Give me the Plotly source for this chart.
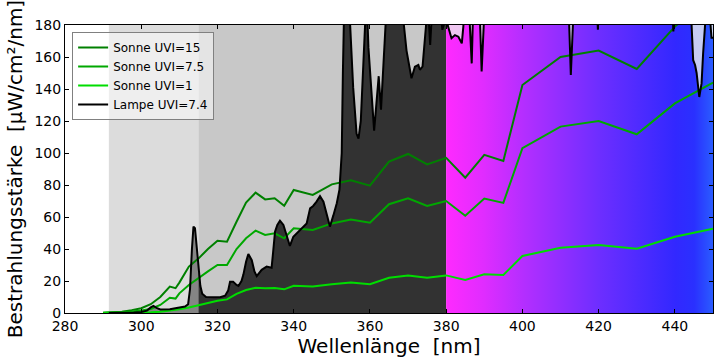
import plotly.graph_objects as go

# ---------------- data ----------------
sun_nm = [290, 295, 297.5, 300, 302.5, 305, 307.5, 309, 310, 312.5, 315, 317.5, 320, 322.5, 325, 327.5,
          330, 332.5, 335, 337.5, 340, 345, 350, 355, 360, 365, 370, 375, 380, 385, 390, 395,
          400, 410, 420, 430, 440, 450]
sun_uvi15 = [0.2, 0.8, 1.8, 3.0, 5.5, 10, 16.5, 15.5, 19, 29, 34, 40, 45.2, 44.6, 57, 69,
             75.2, 71, 71.7, 67, 76.9, 73.8, 80.4, 83, 79.6, 94.6, 99.4, 92.9, 97, 84.6, 98.8, 95,
             142.5, 160, 164, 152.5, 179, 200]
sun_uvi7_5 = [0.1, 0.4, 0.9, 1.6, 2.5, 5, 9.5, 9.0, 12.3, 17.5, 22, 26, 30, 30, 40, 46.7,
              51.5, 48.8, 49.8, 46.7, 53, 51.9, 56, 58.5, 56.4, 68, 71.7, 66.9, 70, 60.8, 71.5, 68.8,
              103, 116.5, 120, 111.7, 131, 144]
sun_uvi1 = [0.0, 0.1, 0.1, 0.2, 0.4, 0.8, 1.5, 1.8, 2.3, 3.5, 5, 6.2, 7.7, 8.5, 12, 14.4,
            15.8, 15.4, 15.6, 14.8, 17, 16.5, 18, 19, 18, 22, 23.5, 22, 23.5, 20.6, 24.2, 23.8,
            35.6, 40.8, 42.5, 40.2, 47.7, 52.7]

lamp_nm = [291.5, 295, 298, 300, 301.5, 302.5, 303.2, 304, 305, 307.5, 310, 311.5, 312.3, 312.8,
           313.3, 313.7, 314.1, 314.6, 315, 315.5, 316, 317, 319, 320.7, 322, 322.8, 323.3, 324.1,
           325, 325.5, 326.3, 326.8, 327.5, 328.1, 329, 329.7, 330.3, 331, 331.6, 332.9, 334.2,
           334.6, 335.1, 335.7, 336.4, 337.3, 338.2, 339, 339.9, 341.2, 342.5, 343.4, 344.3, 345.1,
           346, 346.9, 347.8, 348.6, 349.5, 350.4, 351.3, 352, 352.6, 352.9, 353.2, 353.8, 354.4,
           354.8, 355.6, 356.5, 357, 357.6, 358.3, 358.7, 359.1, 359.6, 360.4, 361.1, 361.7, 362.3,
           362.9, 363.5, 364.2, 365, 366.5, 368, 368.9, 369.6, 370.9, 371.8, 372.7, 373.1, 373.8,
           374.4, 374.9, 375.4, 375.8, 376.2, 377, 378.4, 379, 380, 380.5, 381.4, 382.3, 383.2,
           384.1, 384.5, 385, 386, 386.7, 387.2, 388.5, 389.3, 389.9, 391, 395, 400, 405, 410,
           412, 412.7, 413.4, 415, 419.4, 419.8, 420.2, 425, 430, 439.2, 439.6, 440.2, 444, 444.4,
           444.8, 445.3, 445.7, 446.4, 447, 447.4, 447.9, 448.5, 449.2, 449.6, 450]
lamp_val = [0, 0, 0.3, 0.6, 1.5, 3.5, 4.4, 3.2, 2.2, 2.3, 3.2, 4.0, 5.5, 15,
            40, 54, 53, 40, 27, 17, 12, 10, 9.8, 9.8, 10.8, 14, 19.6, 19.6,
            17.5, 16.9, 20, 24, 32, 36.9, 33, 26, 23, 25, 27, 29, 28.3,
            38, 50.8, 55, 57.7, 55, 47.7, 41.9, 47.7, 50.8, 54, 56, 65.4, 66.9,
            69.6, 73, 69.6, 62.3, 54, 61, 68.6, 77, 100, 150, 185, 260, 200,
            180, 141, 112, 109, 120, 166, 185, 200, 166, 135, 114, 131, 148,
            127, 152, 180, 220, 240, 210, 180, 164, 146.7, 154, 155, 152, 154,
            170, 185, 185, 167.5, 185, 220, 190, 177, 185, 179, 171.7, 173.7, 172.7,
            168.5, 179, 200, 190, 156, 200, 210, 151, 200, 240, 260, 280, 300, 260,
            200, 148.8, 200, 280, 200, 177, 200, 260, 300, 200, 176, 200, 200, 180,
            158, 155, 150, 135, 143.5, 162, 180, 200, 185, 172, 172]

x_ticks = [280, 300, 320, 340, 360, 380, 400, 420, 440]
y_ticks = [0, 20, 40, 60, 80, 100, 120, 140, 160, 180]

# ---------------- figure ----------------
fig = go.Figure()

def seg(lo, hi):
    xs, ys = [], []
    for a, b in zip(lamp_nm, lamp_val):
        if lo <= a <= hi:
            xs.append(a)
            ys.append(b)
    return xs, ys

# pale background above the lamp curve in the visible range
fig.add_trace(go.Scatter(x=[380, 450], y=[180, 180], mode="lines", line=dict(width=0),
                         fill="tozeroy",
                         fillgradient=dict(type="horizontal", colorscale=[
                             [0, "#f0c6f0"], [0.3, "#e2c6f4"], [0.6, "#d0c8f4"],
                             [0.86, "#c6c6f2"], [1, "#c6d0f4"]]),
                         showlegend=False, hoverinfo="skip"))

# fills under lamp curve
xs, ys = seg(291.5, 315)
fig.add_trace(go.Scatter(x=xs, y=ys, mode="lines", line=dict(width=0), fill="tozeroy",
                         fillcolor="#858585", showlegend=False, hoverinfo="skip"))
xs, ys = seg(315, 380)
fig.add_trace(go.Scatter(x=xs, y=ys, mode="lines", line=dict(width=0), fill="tozeroy",
                         fillcolor="#323232", showlegend=False, hoverinfo="skip"))
xs, ys = seg(380, 450)
fig.add_trace(go.Scatter(x=xs, y=ys, mode="lines", line=dict(width=0), fill="tozeroy",
                         fillgradient=dict(type="horizontal", colorscale=[
                             [0, "#ff2aff"], [0.14, "#e02cff"], [0.29, "#b42eff"],
                             [0.57, "#6e2eff"], [0.86, "#3228ff"], [0.93, "#2a30ff"],
                             [1, "#2a5cff"]]),
                         showlegend=False, hoverinfo="skip"))

fig.add_trace(go.Scatter(x=sun_nm, y=sun_uvi15, mode="lines", name="Sonne UVI=15",
                         line=dict(color="#008000", width=2)))
fig.add_trace(go.Scatter(x=sun_nm, y=sun_uvi7_5, mode="lines", name="Sonne UVI=7.5",
                         line=dict(color="#00a800", width=2)))
fig.add_trace(go.Scatter(x=sun_nm, y=sun_uvi1, mode="lines", name="Sonne UVI=1",
                         line=dict(color="#00dd00", width=2)))
fig.add_trace(go.Scatter(x=lamp_nm, y=lamp_val, mode="lines", name="Lampe UVI=7.4",
                         line=dict(color="black", width=2)))

fig.add_shape(type="rect", xref="x", yref="y", x0=291.5, x1=315, y0=0, y1=180,
              fillcolor="#dcdcdc", line=dict(width=0), layer="below")
fig.add_shape(type="rect", xref="x", yref="y", x0=315, x1=380, y0=0, y1=180,
              fillcolor="#c8c8c8", line=dict(width=0), layer="below")

font = "DejaVu Sans"
fig.update_layout(
    width=720, height=360,
    margin=dict(l=65, r=7, t=25, b=47),
    paper_bgcolor="white", plot_bgcolor="white",
    font=dict(family=font, size=14, color="black"),
    showlegend=True,
    legend=dict(x=0.011, y=0.976, xanchor="left", yanchor="top",
                bgcolor="rgba(255,255,255,0.5)", bordercolor="#808080", borderwidth=1,
                font=dict(size=12), itemwidth=30, tracegroupgap=0),
)
fig.update_xaxes(range=[280, 450], tickvals=x_ticks, ticktext=[str(v) for v in x_ticks],
                 ticks="inside", ticklen=4, tickcolor="black", showgrid=False, zeroline=False,
                 showline=True, linecolor="black", linewidth=1, mirror="allticks",
                 automargin=False,
                 title=dict(text="Wellenlänge\u00a0 [nm]", font=dict(size=20), standoff=6),
                 tickfont=dict(size=14))
fig.update_yaxes(range=[0, 180], tickvals=y_ticks, ticktext=[str(v) for v in y_ticks],
                 ticks="inside", ticklen=4, tickcolor="black", showgrid=False, zeroline=False,
                 showline=True, linecolor="black", linewidth=1, mirror="allticks",
                 automargin=False,
                 title=dict(text="Bestrahlungsstärke\u00a0 [µW/cm²/nm]", font=dict(size=20), standoff=6),
                 tickfont=dict(size=14))

fig.write_html("out.html", post_script="document.body.style.margin='0';",
               config={"displayModeBar": False})
